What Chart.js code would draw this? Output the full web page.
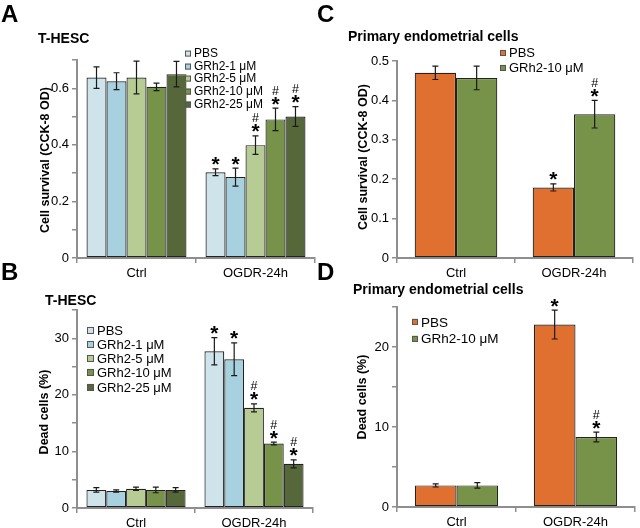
<!DOCTYPE html>
<html>
<head>
<meta charset="utf-8">
<script src="https://cdn.jsdelivr.net/npm/chart.js@4"></script>
<style>
  body { margin: 0; background: #fff; }
  #fig { position: relative; width: 640px; height: 528px; overflow: hidden; background: #fff;
         font-family: Arial, "Liberation Sans", sans-serif; color: #000; }
  #fig canvas { position: absolute; left: 0; top: 0; }
  .t { position: absolute; white-space: nowrap; line-height: 1; transform: translateY(-50%); }
  .letter { font-weight: bold; font-size: 24px; }
  .title { font-weight: bold; font-size: 14px; }
  .ytitle { position: absolute; white-space: nowrap; line-height: 1; font-weight: bold; font-size: 12.5px;
            transform: translate(-50%, -50%) rotate(-90deg); }
  .leg { position: absolute; white-space: nowrap; line-height: 1; transform: translateY(-50%); }
  .leg i { display: inline-block; box-sizing: border-box; border: 1px solid #555; vertical-align: middle; }
  .leg span { vertical-align: middle; }
</style>
</head>
<body>
<div id="fig">
  <canvas id="cA" width="640" height="528"></canvas>
  <canvas id="cB" width="640" height="528"></canvas>
  <canvas id="cC" width="640" height="528"></canvas>
  <canvas id="cD" width="640" height="528"></canvas>

  <div class="t letter" style="left:1px;top:14px">A</div>
  <div class="t letter" style="left:1px;top:272px">B</div>
  <div class="t letter" style="left:317px;top:14px">C</div>
  <div class="t letter" style="left:317px;top:272px">D</div>

  <div class="t title" style="left:38px;top:38px">T-HESC</div>
  <div class="t title" style="left:45px;top:300px">T-HESC</div>
  <div class="t title" style="left:348px;top:36px">Primary endometrial cells</div>
  <div class="t title" style="left:353px;top:289px">Primary endometrial cells</div>

  <div class="ytitle" style="left:45px;top:160px">Cell survival (CCK-8 OD)</div>
  <div class="ytitle" style="left:44px;top:412px">Dead cells (%)</div>
  <div class="ytitle" style="left:363px;top:157px">Cell survival (CCK-8 OD)</div>
  <div class="ytitle" style="left:362px;top:397px">Dead cells (%)</div>
</div>
<script>
// ---- Data ----
const groups = ['Ctrl', 'OGDR-24h'];
const doseNames = ['PBS', 'GRh2-1 μM', 'GRh2-5 μM', 'GRh2-10 μM', 'GRh2-25 μM'];
const doseColors = ['#cfe3ea', '#a7d1de', '#b7cc94', '#77934a', '#56673a'];
const pairNames = ['PBS', 'GRh2-10 μM'];
const pairColors = ['#e07030', '#77934a'];

// A: T-HESC cell survival, one row per treatment, [Ctrl, OGDR-24h]
const survHesc    = [[0.638, 0.303], [0.625, 0.286], [0.638, 0.399], [0.605, 0.490], [0.650, 0.500]];
const survHescErr = [[0.038, 0.012], [0.030, 0.032], [0.058, 0.033], [0.013, 0.040], [0.045, 0.035]];
const survHescSig = [['', '*'], ['', '*'], ['', '#*'], ['', '#*'], ['', '#*']];

// B: T-HESC dead cells (%)
const deadHesc    = [[3.2, 27.7], [3.0, 26.3], [3.4, 17.7], [3.2, 11.4], [3.2, 7.8]];
const deadHescErr = [[0.4, 2.4], [0.2, 2.9], [0.3, 0.7], [0.5, 0.25], [0.4, 0.7]];
const deadHescSig = [['', '*'], ['', '*'], ['', '#*'], ['', '#*'], ['', '#*']];

// C: primary endometrial cells, survival
const survPrim    = [[0.470, 0.179], [0.457, 0.365]];
const survPrimErr = [[0.017, 0.009], [0.030, 0.035]];
const survPrimSig = [['', '*'], ['', '#*']];

// D: primary endometrial cells, dead cells (%)
const deadPrim    = [[2.7, 22.8], [2.7, 8.75]];
const deadPrimErr = [[0.2, 1.8], [0.35, 0.6]];
const deadPrimSig = [['', '*'], ['', '#*']];

// ---- plugins ----
const errorBars = {
  id: 'errorBars',
  afterDatasetsDraw(chart) {
    const ctx = chart.ctx, y = chart.scales.y;
    ctx.save();
    ctx.strokeStyle = '#1a1a1a';
    ctx.lineWidth = 1.2;
    chart.data.datasets.forEach((ds, i) => {
      chart.getDatasetMeta(i).data.forEach((bar, j) => {
        const top = y.getPixelForValue(ds.data[j] + ds.err[j]);
        const bot = y.getPixelForValue(ds.data[j] - ds.err[j]);
        ctx.beginPath();
        ctx.moveTo(bar.x, top); ctx.lineTo(bar.x, bot);
        ctx.moveTo(bar.x - 3, top); ctx.lineTo(bar.x + 3, top);
        ctx.moveTo(bar.x - 3, bot); ctx.lineTo(bar.x + 3, bot);
        ctx.stroke();
      });
    });
    ctx.restore();
  }
};

function centerText(ctx, s, x, cy, font) {
  ctx.font = font;
  const m = ctx.measureText(s);
  ctx.fillText(s, x, cy + (m.actualBoundingBoxAscent - m.actualBoundingBoxDescent) / 2);
}

// * = vs Ctrl, # = vs PBS
const sigMarks = {
  id: 'sigMarks',
  afterDatasetsDraw(chart) {
    const ctx = chart.ctx, y = chart.scales.y;
    ctx.save();
    ctx.fillStyle = '#000';
    ctx.textAlign = 'center';
    chart.data.datasets.forEach((ds, i) => {
      chart.getDatasetMeta(i).data.forEach((bar, j) => {
        const m = ds.sig[j];
        if (!m) return;
        const star = y.getPixelForValue(ds.data[j] + ds.err[j]) - 7.5;
        centerText(ctx, '*', bar.x, star, 'bold 21px Arial, "Liberation Sans"');
        if (m.includes('#')) centerText(ctx, '#', bar.x, star - 10.5, '12.5px Arial, "Liberation Sans"');
      });
    });
    ctx.restore();
  }
};

// ---- panel builder ----
const AXIS = '#8e8e8e';
const YW = 34, XH = 24;

function barPanel(id, p) {
  const datasets = p.names.map((n, i) => ({
    label: n,
    data: p.values[i],
    err: p.errors[i],
    sig: p.sig[i],
    backgroundColor: p.colors[i],
    borderColor: '#222',
    borderWidth: 1.2,
    borderSkipped: false
  }));
  const every = p.labelEvery;
  new Chart(document.getElementById(id), {
    type: 'bar',
    data: { labels: groups, datasets },
    options: {
      responsive: false,
      animation: false,
      events: [],
      categoryPercentage: p.cat,
      barPercentage: 1,
      layout: { padding: { left: p.area[0] - YW, top: p.area[1], right: 640 - p.area[2], bottom: 528 - p.area[3] - XH } },
      plugins: { legend: { display: false }, tooltip: { enabled: false } },
      scales: {
        x: {
          afterFit(s) { s.height = XH; },
          grid: { offset: true, drawOnChartArea: false, tickLength: 5, color: AXIS, lineWidth: 1.5 },
          border: { color: AXIS, width: 2 },
          ticks: { color: '#000', font: { size: 13, family: 'Arial, "Liberation Sans"' }, padding: 3 }
        },
        y: {
          min: 0, max: p.max,
          afterFit(s) { s.width = YW; },
          grid: { drawOnChartArea: false, tickLength: 5, color: AXIS, lineWidth: 1.5 },
          border: { color: AXIS, width: 2 },
          ticks: {
            stepSize: p.step,
            color: '#000',
            font: { size: 13, family: 'Arial, "Liberation Sans"' },
            padding: 3,
            callback: v => {
              const r = v / every;
              return Math.abs(r - Math.round(r)) < 1e-6 ? String(+v.toFixed(2)) : '';
            }
          }
        }
      }
    },
    plugins: [errorBars, sigMarks]
  });
}

function legend(x, y0, dy, size, box, names, colors) {
  const fig = document.getElementById('fig');
  names.forEach((n, i) => {
    const d = document.createElement('div');
    d.className = 'leg';
    d.style.left = x + 'px';
    d.style.top = (y0 + i * dy) + 'px';
    d.style.fontSize = size + 'px';
    d.innerHTML = `<i style="width:${box}px;height:${box}px;background:${colors[i]};margin-right:${box > 5 ? 3 : 2}px"></i><span>${n}</span>`;
    fig.appendChild(d);
  });
}

barPanel('cA', { names: doseNames, colors: doseColors, values: survHesc, errors: survHescErr, sig: survHescSig,
  max: 0.7, step: 0.1, labelEvery: 0.2, cat: 0.84, area: [77, 60, 315, 258] });
barPanel('cB', { names: doseNames, colors: doseColors, values: deadHesc, errors: deadHescErr, sig: deadHescSig,
  max: 35, step: 5, labelEvery: 10, cat: 0.84, area: [77, 310, 313, 508] });
barPanel('cC', { names: pairNames, colors: pairColors, values: survPrim, errors: survPrimErr, sig: survPrimSig,
  max: 0.5, step: 0.1, labelEvery: 0.1, cat: 0.7, area: [397, 61, 633, 258] });
barPanel('cD', { names: pairNames, colors: pairColors, values: deadPrim, errors: deadPrimErr, sig: deadPrimSig,
  max: 25, step: 5, labelEvery: 10, cat: 0.7, area: [397, 307, 635, 507] });

legend(185, 53, 12.7, 12, 6, doseNames, doseColors);
legend(87, 329.5, 14.3, 13, 7, doseNames, doseColors);
legend(500, 52, 15, 13, 6, pairNames, pairColors);
legend(412, 321.7, 16.6, 13.5, 6, pairNames, pairColors);
</script>
</body>
</html>
